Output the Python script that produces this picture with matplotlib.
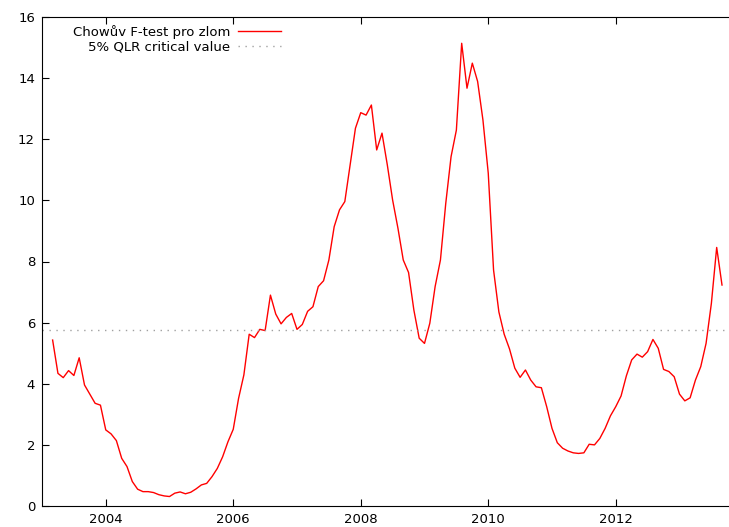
import matplotlib
matplotlib.use('Agg')
import matplotlib.pyplot as plt
import numpy as np

# mesicni hodnoty F-testu, brezen 2003 - zari 2013
start_year, start_month = 2003, 3
f_test = [
    5.43, 4.34, 4.20, 4.43, 4.27, 4.85, 3.96, 3.66, 3.36, 3.30,                # 2003
    2.49, 2.36, 2.14, 1.56, 1.29, 0.80, 0.55, 0.47, 0.47, 0.44, 0.37, 0.33,    # 2004
    0.31, 0.42, 0.46, 0.40, 0.45, 0.56, 0.69, 0.74, 0.96, 1.23, 1.61, 2.10,    # 2005
    2.51, 3.52, 4.29, 5.62, 5.51, 5.78, 5.74, 6.90, 6.28, 5.96, 6.17, 6.30,    # 2006
    5.78, 5.94, 6.37, 6.52, 7.18, 7.37, 8.05, 9.14, 9.69, 9.96, 11.16, 12.36,  # 2007
    12.87, 12.79, 13.12, 11.65, 12.20, 11.16, 10.01, 9.09, 8.05, 7.64, 6.41, 5.49,  # 2008
    5.32, 5.98, 7.18, 8.05, 9.90, 11.43, 12.30, 15.14, 13.67, 14.49, 13.89, 12.63,  # 2009
    10.89, 7.72, 6.35, 5.62, 5.14, 4.51, 4.21, 4.45, 4.12, 3.90, 3.87, 3.25,   # 2010
    2.54, 2.07, 1.89, 1.80, 1.74, 1.72, 1.74, 2.02, 2.00, 2.21, 2.54, 2.95,    # 2011
    3.25, 3.60, 4.26, 4.78, 4.97, 4.87, 5.05, 5.45, 5.16, 4.47, 4.40, 4.23,    # 2012
    3.66, 3.44, 3.54, 4.12, 4.56, 5.32, 6.63, 8.46, 7.23,                      # 2013
]
qlr_critical = 5.75
x_ticks = [2004, 2006, 2008, 2010, 2012]
y_ticks = [0, 2, 4, 6, 8, 10, 12, 14, 16]

t = start_year + (start_month - 1) / 12.0 + np.arange(len(f_test)) / 12.0

plt.rcParams['font.family'] = ['DejaVu Sans']
fig = plt.figure(figsize=(7.29, 5.27), dpi=100)
ax = fig.add_axes([42 / 729., 21 / 527., 687 / 729., 489 / 527.])

ax.plot(t, f_test, color='#ff0000', lw=1.0, label=u'Chowův F-test pro zlom')
ax.axhline(qlr_critical, color='#a0a0a0', lw=1.0, ls=(0, (1, 4)),
           label='5% QLR critical value')

ax.set_xlim(2003.0, 2003.0 + 687 / 63.75)
ax.set_ylim(0, 16)
ax.set_xticks(x_ticks)
ax.set_yticks(y_ticks)
ax.tick_params(direction='in', top=True, length=5, width=0.8,
               labelsize=9.5, pad=5, colors='black')
ax.spines['right'].set_visible(False)
for s in ['left', 'bottom', 'top']:
    ax.spines[s].set_linewidth(0.8)

leg = ax.legend(loc='upper right', bbox_to_anchor=(0.359, 1.0), frameon=False,
                markerfirst=False, fontsize=9.5, handlelength=3.2,
                handletextpad=0.6, labelspacing=0.12, borderpad=0.2,
                borderaxespad=0.4)

fig.savefig('out.png', dpi=100)
